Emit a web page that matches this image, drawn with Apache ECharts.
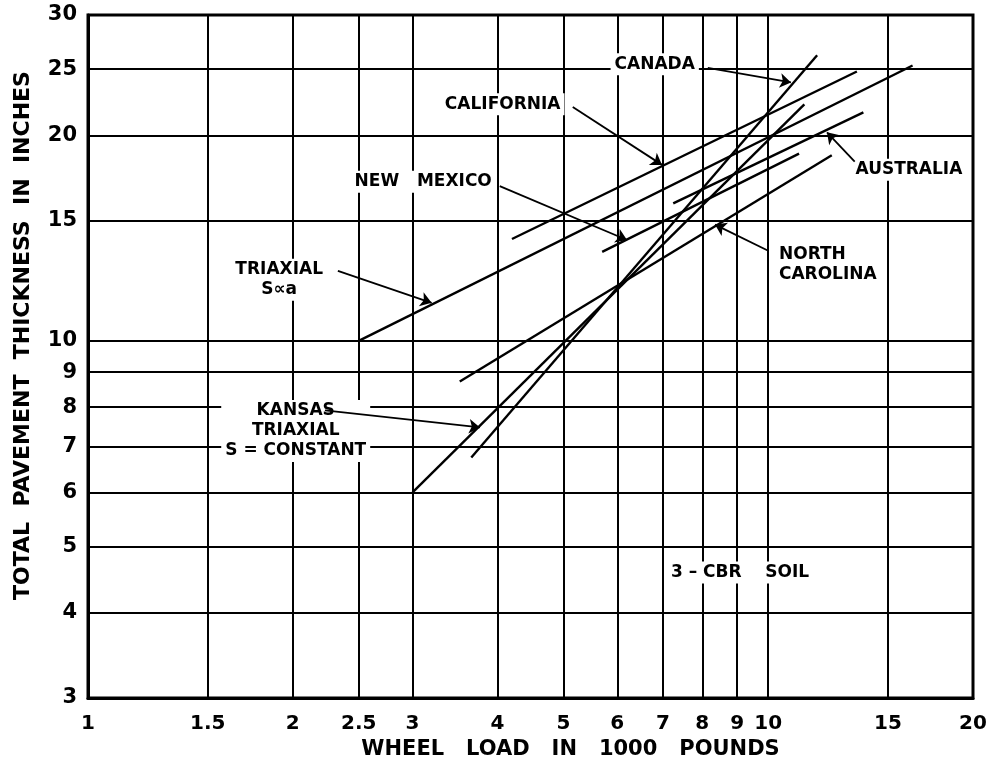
<!DOCTYPE html>
<html><head><meta charset="utf-8">
<script src="https://cdn.jsdelivr.net/npm/echarts@6/dist/echarts.min.js"></script>
<style>html,body{margin:0;padding:0;background:#fff}#c{width:1003px;height:760px}</style>
</head><body><div id="c"></div>
<script>
// Axis ticks
const xTicks = [1, 1.5, 2, 2.5, 3, 4, 5, 6, 7, 8, 9, 10, 15, 20];
const yTicks = [3, 4, 5, 6, 7, 8, 9, 10, 15, 20, 25, 30];

// Curves: [wheel load (1000 lb), pavement thickness (in)]
const triaxialSa = [[2.5, 10], [16.3, 25.3]];
const california = [[4.2, 14.1], [13.5, 24.8]];
const newMexico = [[5.7, 13.5], [11.1, 18.8]];
const australia = [[7.25, 15.9], [13.8, 21.6]];
const northCarolina = [[3.52, 8.72], [12.4, 18.7]];
const kansas = [[3.0, 6.0], [11.3, 22.2]];
const canada = [[3.66, 6.75], [11.8, 26.2]];

// Annotation arrows (from -> to), in data units
const triaxialSaArrow = [[2.33, 12.66], [3.20, 11.37]];
const californiaArrow = [[5.16, 22.0], [6.98, 18.1]];
const newMexicoArrow = [[4.03, 16.85], [6.20, 14.05]];
const australiaArrow = [[13.4, 18.3], [12.2, 20.2]];
const northCarolinaArrow = [[10.0, 13.55], [8.35, 14.8]];
const kansasArrow = [[2.23, 7.91], [3.77, 7.47]];
const canadaArrow = [[8.15, 25.1], [10.8, 23.9]];

// Annotation texts and anchor points (data units)
const labelTexts = ['CANADA', 'CALIFORNIA', 'NEW   MEXICO', 'TRIAXIAL\nS\u221Da', 'AUSTRALIA', 'NORTH\nCAROLINA', 'KANSAS\nTRIAXIAL\nS = CONSTANT', '3 \u2013 CBR    SOIL'];
const labelAt = [[6.81, 25.4], [4.07, 22.2], [3.11, 17.1], [1.91, 12.29], [16.1, 17.8], [10.23, 12.92], [2.02, 7.38], [9.09, 4.58]];

const FONT = 'DejaVu Sans';
const chart = echarts.init(document.getElementById('c'), null, {renderer: 'canvas'});

function curve(name, data, arrow) {
  return {
    name: name, type: 'line', data: data, showSymbol: false, symbol: 'none',
    lineStyle: {color: '#000', width: 2.4}, silent: true, z: 3,
    markLine: {
      silent: true, symbol: ['none', 'arrow'], symbolSize: 11,
      label: {show: false},
      lineStyle: {color: '#000', width: 1.8, type: 'solid'},
      data: [[{coord: arrow[0]}, {coord: arrow[1]}]]
    }
  };
}

const labelData = labelTexts.map((t, i) => {
  const item = {value: labelAt[i], name: t};
  if (t.indexOf('NORTH') === 0) {
    item.label = {position: 'right', distance: 0, align: 'left'};
  }
  return item;
});

chart.setOption({
  animation: false,
  backgroundColor: '#fff',
  grid: {left: 88, right: 30, top: 15, bottom: 62, outerBoundsMode: 'none', containLabel: false,
    show: true, borderColor: '#000', borderWidth: 3, backgroundColor: 'transparent'},
  xAxis: {
    type: 'log', logBase: 10, min: 1, max: 20,
    name: 'WHEEL   LOAD   IN   1000   POUNDS', nameLocation: 'middle', nameGap: 37,
    nameTextStyle: {color: '#000', fontFamily: FONT, fontWeight: 'bold', fontSize: 21, padding: [0, 0, 0, 80]},
    axisLine: {show: true, lineStyle: {color: '#000', width: 3}},
    axisTick: {show: false, customValues: xTicks},
    axisLabel: {customValues: xTicks, color: '#000', fontFamily: FONT, fontWeight: 'bold', fontSize: 20, margin: 16,
      formatter: v => String(+v.toFixed(2))},
    splitLine: {show: true, lineStyle: {color: '#000', width: 2}}
  },
  yAxis: {
    type: 'log', logBase: 10, min: 3, max: 30,
    name: 'TOTAL  PAVEMENT  THICKNESS  IN  INCHES', nameLocation: 'middle', nameGap: 54,
    nameTextStyle: {color: '#000', fontFamily: FONT, fontWeight: 'bold', fontSize: 22, padding: [0, 0, 0, 42]},
    axisLine: {show: true, lineStyle: {color: '#000', width: 3}},
    axisTick: {show: false, customValues: yTicks},
    axisLabel: {customValues: yTicks, color: '#000', fontFamily: FONT, fontWeight: 'bold', fontSize: 21, margin: 11,
      formatter: v => String(+v.toFixed(2))},
    splitLine: {show: true, lineStyle: {color: '#000', width: 2}}
  },
  series: [
    curve('Triaxial S\u221Da', triaxialSa, triaxialSaArrow),
    curve('California', california, californiaArrow),
    curve('New Mexico', newMexico, newMexicoArrow),
    curve('Australia', australia, australiaArrow),
    curve('North Carolina', northCarolina, northCarolinaArrow),
    curve('Kansas Triaxial S = constant', kansas, kansasArrow),
    curve('Canada', canada, canadaArrow),
    {
      name: 'labels', type: 'scatter', symbolSize: 0, silent: true, z: 4,
      itemStyle: {opacity: 1},
      data: labelData,
      label: {
        show: true, position: 'inside', formatter: p => p.name, opacity: 1,
        color: '#000', fontFamily: FONT, fontWeight: 'bold', fontSize: 17, lineHeight: 20,
        align: 'center', backgroundColor: '#fff', padding: [1, 4]
      }
    }
  ]
});
</script>
</body></html>
